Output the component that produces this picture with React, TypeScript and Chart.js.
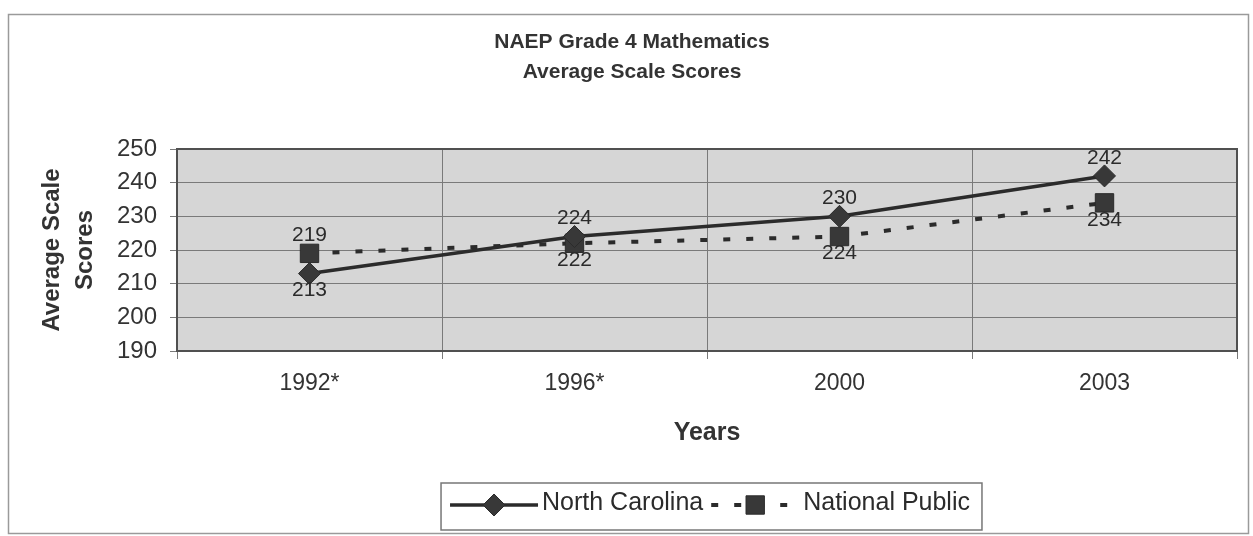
import React, { useEffect, useRef } from "react";
import { Chart, registerables } from "chart.js";

Chart.register(...registerables);

const years = ["1992*", "1996*", "2000", "2003"];
const northCarolina = [213, 224, 230, 242];
const nationalPublic = [219, 222, 224, 234];
const seriesNames = ["North Carolina", "National Public"];
const yMin = 190;
const yMax = 250;
const yStep = 10;
const titleLines = ["NAEP Grade 4 Mathematics", "Average Scale Scores"];
const yTitleLines = ["Average Scale", "Scores"];
const xTitle = "Years";

const FONT = "'Liberation Sans', Arial, sans-serif";
const INK = "#2b2b2b";

const framePlugin = {
  id: "framePlugin",
  beforeDraw(chart: any) {
    const { ctx, chartArea: a } = chart;
    ctx.save();
    ctx.fillStyle = "#ffffff";
    ctx.fillRect(0, 0, chart.width, chart.height);
    ctx.strokeStyle = "#9a9a9a";
    ctx.lineWidth = 1.5;
    ctx.strokeRect(8.5, 14.5, 1240, 519);
    ctx.fillStyle = "#d6d6d6";
    ctx.fillRect(a.left, a.top, a.right - a.left, a.bottom - a.top);
    ctx.restore();
  },
  afterDraw(chart: any) {
    const { ctx, chartArea: a } = chart;
    ctx.save();
    // plot border
    ctx.strokeStyle = "#505050";
    ctx.lineWidth = 2;
    ctx.strokeRect(a.left, a.top, a.right - a.left, a.bottom - a.top);
    // title
    ctx.fillStyle = "#333333";
    ctx.font = `bold 21px ${FONT}`;
    ctx.textAlign = "center";
    ctx.textBaseline = "middle";
    titleLines.forEach((t, i) => ctx.fillText(t, 632, 42 + i * 30));

    // data labels: higher series above, lower below
    ctx.font = `21px ${FONT}`;
    ctx.fillStyle = INK;
    const metas = [chart.getDatasetMeta(0), chart.getDatasetMeta(1)];
    const data = [northCarolina, nationalPublic];
    years.forEach((_, i) => {
      [0, 1].forEach((s) => {
        const other = data[1 - s][i];
        const above = data[s][i] >= other;
        const pt = metas[s].data[i];
        ctx.fillText(String(data[s][i]), pt.x, pt.y + (above ? -18 : 17));
      });
    });

    // legend
    ctx.font = `25px ${FONT}`;
    const sample = 88;
    const w1 = ctx.measureText(seriesNames[0]).width;
    const w2 = ctx.measureText(seriesNames[1]).width;
    const total = sample + 4 + w1 + 8 + sample + 4 + w2;
    const cx = 710;
    const startX = cx - total / 2;
    const boxL = startX - 9;
    const boxR = startX + total + 12;
    ctx.strokeStyle = "#777777";
    ctx.lineWidth = 1.5;
    ctx.strokeRect(boxL, 483, boxR - boxL, 47);
    const ly = 505;
    const ds = chart.data.datasets;
    let x = startX;
    for (let s = 0; s < 2; s++) {
      const d = ds[s];
      ctx.save();
      ctx.strokeStyle = d.borderColor;
      ctx.lineWidth = d.borderWidth;
      ctx.setLineDash(d.borderDash || []);
      ctx.beginPath();
      ctx.moveTo(x, ly);
      ctx.lineTo(x + sample, ly);
      ctx.stroke();
      ctx.restore();
      ctx.save();
      ctx.fillStyle = d.pointBackgroundColor;
      ctx.strokeStyle = d.pointBorderColor;
      ctx.lineWidth = 1;
      const r = d.pointRadius;
      const mx = x + sample / 2;
      ctx.beginPath();
      if (d.pointStyle === "rectRot") {
        ctx.moveTo(mx, ly - r);
        ctx.lineTo(mx + r, ly);
        ctx.lineTo(mx, ly + r);
        ctx.lineTo(mx - r, ly);
        ctx.closePath();
      } else {
        const h = r * Math.SQRT1_2;
        ctx.rect(mx - h, ly - h, 2 * h, 2 * h);
      }
      ctx.fill();
      ctx.stroke();
      ctx.restore();
      ctx.fillStyle = INK;
      ctx.textAlign = "left";
      ctx.textBaseline = "middle";
      ctx.fillText(seriesNames[s], x + sample + 4, ly - 2);
      x += sample + 4 + (s === 0 ? w1 + 8 : w2);
    }
    ctx.restore();
  },
};

export default function App() {
  const ref = useRef<HTMLCanvasElement | null>(null);
  useEffect(() => {
    if (!ref.current) return;
    const chart = new Chart(ref.current, {
      type: "line",
      data: {
        labels: years,
        datasets: [
          {
            label: seriesNames[0],
            data: northCarolina,
            borderColor: INK,
            borderWidth: 3.5,
            pointStyle: "rectRot",
            pointRadius: 11,
            pointBackgroundColor: "#383838",
            pointBorderColor: INK,
            pointBorderWidth: 1,
            tension: 0,
          },
          {
            label: seriesNames[1],
            data: nationalPublic,
            borderColor: INK,
            borderWidth: 4,
            borderDash: [7, 16],
            pointStyle: "rect",
            pointRadius: 13,
            pointBackgroundColor: "#383838",
            pointBorderColor: INK,
            pointBorderWidth: 1,
            tension: 0,
          },
        ],
      },
      options: {
        responsive: false,
        animation: false,
        layout: { padding: { top: 149, right: 16, bottom: 88, left: 0 } },
        plugins: {
          legend: { display: false },
          title: { display: false },
          tooltip: { enabled: false },
        },
        scales: {
          x: {
            type: "category",
            offset: true,
            grid: { offset: true, color: "#7a7a7a", tickLength: 8, lineWidth: 1 },
            border: { display: false },
            ticks: { color: "#333333", font: { family: FONT, size: 23 }, padding: 11 },
            title: {
              display: true,
              text: xTitle,
              color: "#333333",
              font: { family: FONT, size: 25, weight: "bold", lineHeight: 1.2 },
              padding: { top: 0, bottom: 0 },
            },
            afterFit: (scale: any) => {
              scale.height = 97;
            },
          },
          y: {
            min: yMin,
            max: yMax,
            ticks: {
              stepSize: yStep,
              color: "#333333",
              font: { family: FONT, size: 24 },
              padding: 13,
            },
            grid: { color: "#7a7a7a", tickLength: 7, lineWidth: 1 },
            border: { display: false },
            title: {
              display: true,
              text: yTitleLines,
              color: "#333333",
              font: { family: FONT, size: 24, weight: "bold", lineHeight: 1.375 },
              padding: { top: 35.5, bottom: 0 },
            },
            afterFit: (scale: any) => {
              scale.width = 177;
            },
          },
        },
      },
      plugins: [framePlugin],
    } as any);
    return () => chart.destroy();
  }, []);
  return (
    <div style={{ position: "absolute", left: 0, top: 0, width: 1253, height: 536 }}>
      <canvas ref={ref} width={1253} height={536} style={{ display: "block" }} />
    </div>
  );
}
